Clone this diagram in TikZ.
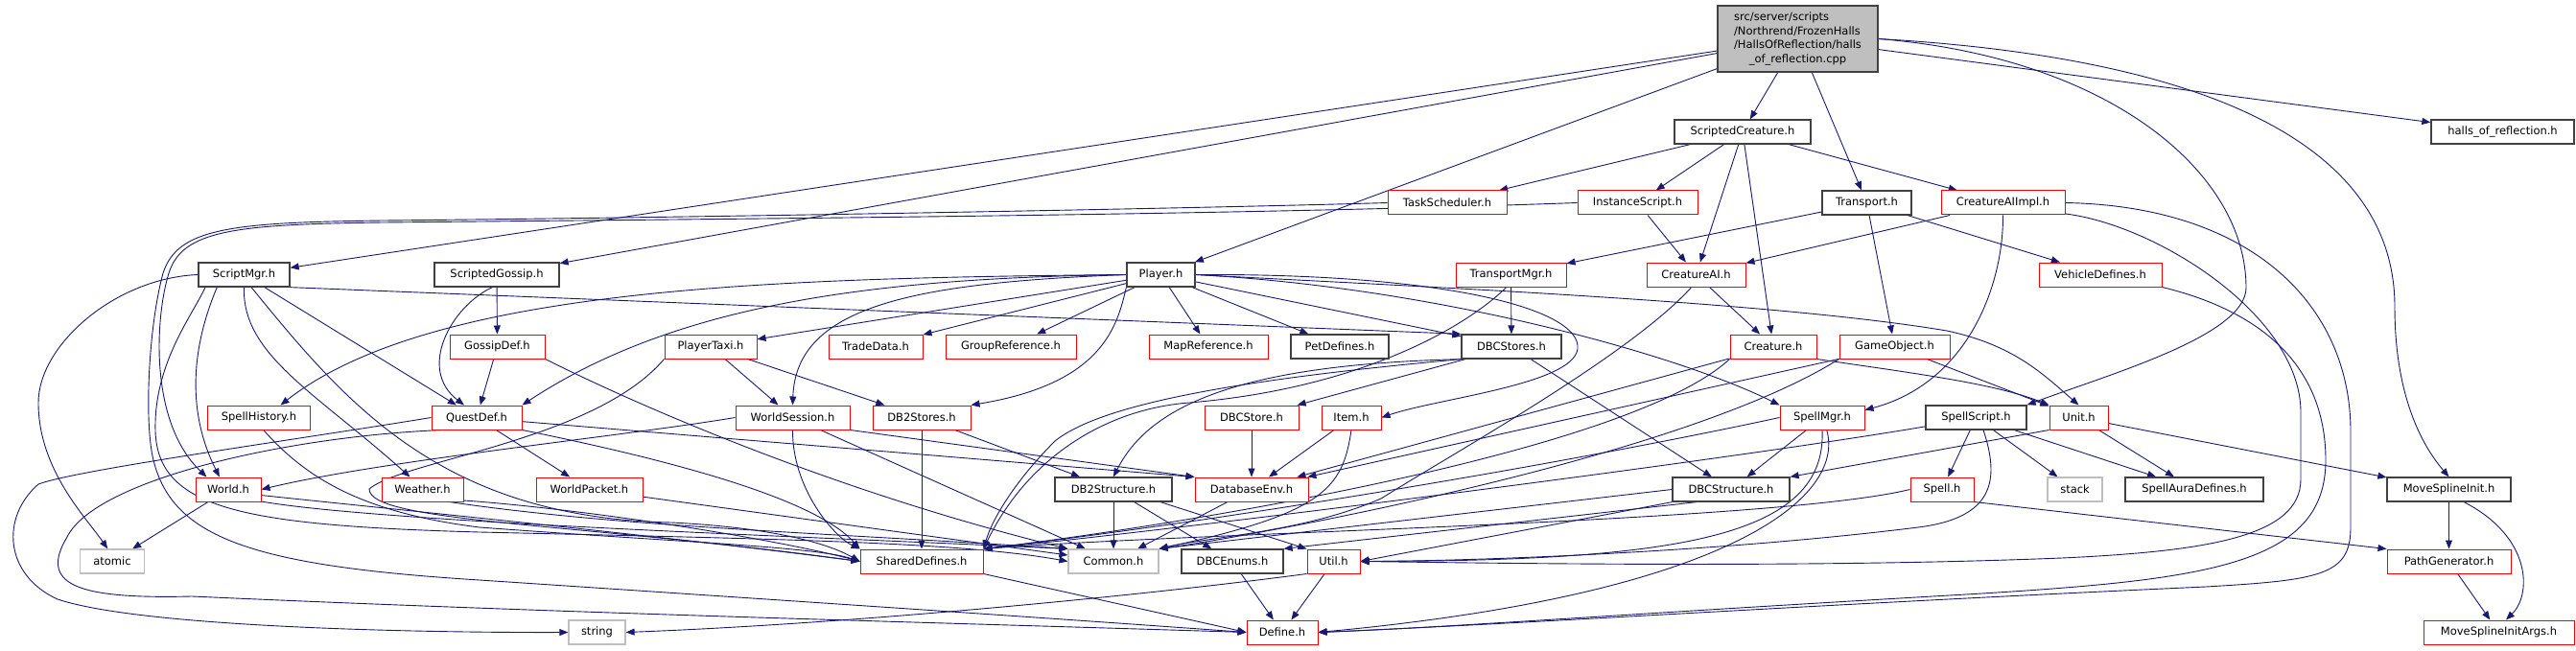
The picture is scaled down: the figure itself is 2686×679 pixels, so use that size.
\documentclass[tikz,border=0pt]{standalone}
\usepackage{fontspec}
\newfontfamily\nf{DejaVu Sans}
\usetikzlibrary{arrows.meta}
\definecolor{edgec}{HTML}{191970}
\definecolor{mainfill}{HTML}{BFBFBF}
\definecolor{graybd}{HTML}{BFBFBF}
\definecolor{blackbd}{HTML}{404040}
\pgfdeclarelayer{back}
\pgfdeclarelayer{edges}
\pgfsetlayers{back,edges,main}
\tikzset{
  box/.style={rectangle, minimum height=25pt, inner sep=0pt, fill=white, text=black,
              font=\nf\fontsize{11.5}{13}\selectfont},
  rb/.style={box, draw=red, line width=1pt},
  kb/.style={box, draw=blackbd, line width=1.3pt},
  gb/.style={box, draw=graybd, line width=1.2pt},
  arr/.style={draw=edgec, line width=0.9pt, -{Triangle[length=9pt,width=7pt]}}
}
\begin{document}
\begin{tikzpicture}[x=1pt,y=-1pt]
\begin{pgfonlayer}{back}
\fill[white] (0,0) rectangle (2686,679);
\end{pgfonlayer}
\useasboundingbox (0,0) rectangle (2686,679);

% ---------- nodes ----------
\node[kb, fill=mainfill, minimum width=167pt, minimum height=69pt,
      font=\nf\fontsize{11.5}{14.8}\selectfont] (main) at (1874.5,40.5)
  {\begin{tabular}{@{}l@{}}src/server/scripts\\/Northrend/FrozenHalls\\/HallsOfReflection/halls\\\multicolumn{1}{@{}c@{}}{\_of\_reflection.cpp}\end{tabular}};
\node[kb, minimum width=95pt]  (SMgr)   at (254.5,286.5) {ScriptMgr.h};
\node[kb, minimum width=130pt] (SGos)   at (518,286.5)   {ScriptedGossip.h};
\node[kb, minimum width=71pt]  (Player) at (1210.5,286.5) {Player.h};
\node[kb, minimum width=142pt] (SC)     at (1817,137.5)  {ScriptedCreature.h};
\node[rb, minimum width=124pt] (TS)     at (1509,211.5)  {TaskScheduler.h};
\node[rb, minimum width=125pt] (IS)     at (1707.5,211.5) {InstanceScript.h};
\node[kb, minimum width=93pt]  (Tr)     at (1946.5,211.5) {Transport.h};
\node[rb, minimum width=129pt] (CAIImpl) at (2088.5,211.5) {CreatureAIImpl.h};
\node[kb, minimum width=149pt] (halls)  at (2609.5,137.5) {halls\_of\_reflection.h};
\node[rb, minimum width=115pt] (TMgr)   at (1575.5,286.5) {TransportMgr.h};
\node[rb, minimum width=103pt] (CAI)    at (1768.5,286.5) {CreatureAI.h};
\node[rb, minimum width=128pt] (VD)     at (2190,286.5)  {VehicleDefines.h};
\node[rb, minimum width=99pt]  (GD)     at (518.5,361.5) {GossipDef.h};
\node[rb, minimum width=96pt]  (PT)     at (741,361.5)   {PlayerTaxi.h};
\node[rb, minimum width=98pt]  (TD)     at (913,361.5)   {TradeData.h};
\node[rb, minimum width=136pt] (GR)     at (1054,361.5)  {GroupReference.h};
\node[rb, minimum width=124pt] (MR)     at (1260,361.5)  {MapReference.h};
\node[kb, minimum width=102pt] (PD)     at (1397,361.5)  {PetDefines.h};
\node[kb, minimum width=104pt] (DBCS)   at (1576,361.5)  {DBCStores.h};
\node[rb, minimum width=90pt]  (Cr)     at (1849,361.5)  {Creature.h};
\node[rb, minimum width=115pt] (GO)     at (1975.5,361.5) {GameObject.h};
\node[rb, minimum width=107pt] (SH)     at (270,435.5)   {SpellHistory.h};
\node[rb, minimum width=94pt]  (QD)     at (497,435.5)   {QuestDef.h};
\node[rb, minimum width=119pt] (WS)     at (826.5,435.5) {WorldSession.h};
\node[rb, minimum width=102pt] (DB2S)   at (961,435.5)   {DB2Stores.h};
\node[rb, minimum width=98pt]  (DBCSt)  at (1305,435.5)  {DBCStore.h};
\node[rb, minimum width=62pt]  (Item)   at (1409,435.5)  {Item.h};
\node[rb, minimum width=88pt]  (SM)     at (1900,435.5)  {SpellMgr.h};
\node[kb, minimum width=105pt] (SS)     at (2060.5,435.5) {SpellScript.h};
\node[rb, minimum width=61pt]  (Unit)   at (2167.5,435.5) {Unit.h};
\node[rb, minimum width=68pt]  (World)  at (238,510.5)   {World.h};
\node[rb, minimum width=85pt]  (Weather) at (440.5,510.5) {Weather.h};
\node[rb, minimum width=111pt] (WP)     at (614.5,510.5) {WorldPacket.h};
\node[kb, minimum width=122pt] (DB2St)  at (1161,510.5)  {DB2Structure.h};
\node[rb, minimum width=118pt] (DBE)    at (1305,510.5)  {DatabaseEnv.h};
\node[kb, minimum width=122pt] (DBCStr) at (1805,510.5)  {DBCStructure.h};
\node[rb, minimum width=66pt]  (Spell)  at (2025,510.5)  {Spell.h};
\node[gb, minimum width=57pt]  (stack)  at (2163.5,510.5) {stack};
\node[kb, minimum width=144pt] (SAD)    at (2288,510.5)  {SpellAuraDefines.h};
\node[kb, minimum width=129pt] (MSI)    at (2553.5,510.5) {MoveSplineInit.h};
\node[gb, minimum width=67pt]  (atomic) at (117,585.5)   {atomic};
\node[rb, minimum width=128pt] (SD)     at (961,585.5)   {SharedDefines.h};
\node[gb, minimum width=94pt]  (Common) at (1161,585.5)  {Common.h};
\node[kb, minimum width=106pt] (DBCE)   at (1285,585.5)  {DBCEnums.h};
\node[rb, minimum width=55pt]  (Util)   at (1390.5,585.5) {Util.h};
\node[rb, minimum width=129pt] (PG)     at (2553.5,585.5) {PathGenerator.h};
\node[gb, minimum width=59pt]  (string) at (622.5,659.5)  {string};
\node[rb, minimum width=74pt]  (Define) at (1337,659.5)  {Define.h};
\node[rb, minimum width=157pt] (MSIA)   at (2605.5,659.5) {MoveSplineInitArgs.h};

% ---------- edges ----------
\begin{pgfonlayer}{edges}
% main
\draw[arr] (main) -- (SMgr);
\draw[arr] (main) -- (SGos);
\draw[arr] (main) -- (Player);
\draw[arr] (main) -- (SC);
\draw[arr] (main) -- (Tr);
\draw[arr] (main) -- (halls);
\draw[arr] (main.east) .. controls (2200,60) and (2342,180) .. (2342,300) .. controls (2342,350) and (2200,390) .. (SS.north east);
\draw[arr] (main.east) .. controls (2300,60) and (2497,150) .. (2497,320) .. controls (2497,420) and (2530,470) .. (MSI.north);
% ScriptedCreature
\draw[arr] (SC) -- (TS);
\draw[arr] (SC) -- (IS);
\draw[arr] (SC) -- (CAI);
\draw[arr] (SC) -- (Cr);
\draw[arr] (SC) -- (CAIImpl);
% TaskScheduler
\draw[arr] (TS.west) .. controls (1300,216) and (800,226) .. (400,230) .. controls (240,232) and (185,238) .. (170,285) .. controls (155,340) and (150,440) .. (160,480) .. controls (180,560) and (260,590) .. (500,605) .. controls (800,625) and (1100,645) .. (Define.west);
% InstanceScript
\draw[arr] (IS) -- (CAI);
\draw[arr] (IS.west) .. controls (1300,224) and (800,228) .. (400,232) .. controls (245,234) and (190,240) .. (176,285) .. controls (162,330) and (155,440) .. (World.150);
% Transport
\draw[arr] (Tr) -- (TMgr);
\draw[arr] (Tr) -- (VD);
\draw[arr] (Tr) -- (GO);
% CreatureAIImpl
\draw[arr] (CAIImpl) -- (CAI);
\draw[arr] (CAIImpl.south) .. controls (2089,300) and (2050,400) .. (SM.10);
\draw[arr] (CAIImpl.east) .. controls (2350,215) and (2451,320) .. (2451,450) -- (2451,550) .. controls (2451,600) and (2420,605) .. (2300,612) .. controls (1900,630) and (1600,650) .. (Define.east);
\draw[arr] (CAIImpl.-10) .. controls (2250,235) and (2399,330) .. (2399,430) -- (2399,500) .. controls (2399,560) and (2300,575) .. (2150,582) .. controls (1900,592) and (1600,588) .. (Util.east);
% VehicleDefines
\draw[arr] (VD.south east) .. controls (2380,330) and (2425,400) .. (2425,480) .. controls (2425,590) and (2300,605) .. (2050,620) .. controls (1700,640) and (1500,655) .. (Define.east);
% TransportMgr
\draw[arr] (TMgr) -- (DBCS);
\draw[arr] (TMgr.250) .. controls (1530,340) and (1420,405) .. (1240,420) .. controls (1150,427) and (1070,480) .. (SD.north east);
% CreatureAI
\draw[arr] (CAI) -- (Cr);
\draw[arr] (CAI.250) .. controls (1700,370) and (1520,470) .. (1440,520) .. controls (1360,555) and (1260,560) .. (Common.north east);
% ScriptMgr
\draw[arr] (SMgr.south east) -- (DBCS.north west);
\draw[arr] (SMgr.west) .. controls (120,290) and (40,360) .. (40,420) .. controls (40,490) and (90,540) .. (atomic.110);
\draw[arr] (SMgr.205) .. controls (205,350) and (190,420) .. (World.125);
\draw[arr] (SMgr.south) .. controls (252,370) and (330,410) .. (Weather.135);
\draw[arr] (SMgr) -- (QD);
\draw[arr] (SMgr.300) .. controls (360,420) and (460,540) .. (700,545) .. controls (800,550) and (860,565) .. (SD.west);
\draw[arr] (SMgr.198) .. controls (200,330) and (160,380) .. (162,450) .. controls (165,530) and (250,548) .. (500,555) .. controls (800,562) and (1000,565) .. (Common.west);
% ScriptedGossip
\draw[arr] (SGos) -- (GD);
\draw[arr] (SGos.250) .. controls (470,320) and (435,385) .. (QD.135);
% Player
\draw[arr] (Player) -- (TD);
\draw[arr] (Player) -- (GR);
\draw[arr] (Player) -- (MR);
\draw[arr] (Player) -- (PD);
\draw[arr] (Player) -- (PT);
\draw[arr] (Player) -- (DBCS);
\draw[arr] (Player.south west) .. controls (1165,340) and (1150,400) .. (DB2S.north east);
\draw[arr] (Player.east) .. controls (1500,285) and (1640,320) .. (1645,360) .. controls (1650,400) and (1500,415) .. (Item.east);
\draw[arr] (Player.west) .. controls (900,290) and (700,320) .. (QD.north east);
\draw[arr] (Player.west) .. controls (800,290) and (450,300) .. (SH.30);
\draw[arr] (Player.west) .. controls (950,295) and (830,320) .. (WS.north);
\draw[arr] (Player.east) .. controls (1500,300) and (1750,370) .. (SM.north west);
\draw[arr] (Player.east) .. controls (1500,300) and (1850,315) .. (2030,345) .. controls (2100,360) and (2130,390) .. (Unit.north);
% PlayerTaxi
\draw[arr] (PT) -- (WS);
\draw[arr] (PT) -- (DB2S);
\draw[arr] (PT.south west) .. controls (620,460) and (420,480) .. (385,510) .. controls (385,545) and (600,545) .. (SD.west);
% WorldSession
\draw[arr] (WS.west) .. controls (650,455) and (400,480) .. (World.east);
\draw[arr] (WS.south) .. controls (826,510) and (870,560) .. (SD.north west);
\draw[arr] (WS.south east) -- (DBE.north west);
\draw[arr] (WS) -- (Common);
% DB2Stores
\draw[arr] (DB2S) -- (SD);
\draw[arr] (DB2S) -- (DB2St);
% DBCStores
\draw[arr] (DBCS) -- (DBCSt);
\draw[arr] (DBCS) -- (DBCStr);
\draw[arr] (DBCS.south west) .. controls (1300,380) and (1200,420) .. (DB2St.north);
\draw[arr] (DBCS.south west) .. controls (1300,395) and (1150,420) .. (1100,460) .. controls (1060,500) and (1035,540) .. (SD.north east);
% DBCStore, Item
\draw[arr] (DBCSt) -- (DBE);
\draw[arr] (Item) -- (DBE);
\draw[arr] (Item.south) .. controls (1400,510) and (1380,535) .. (Common.north east);
% Creature
\draw[arr] (Cr.south east) .. controls (2000,390) and (2080,400) .. (Unit.north west);
\draw[arr] (Cr) -- (DBE);
\draw[arr] (Cr.south west) .. controls (1700,470) and (1250,545) .. (SD.north east);
% GameObject
\draw[arr] (GO) -- (Unit);
\draw[arr] (GO) -- (DBE);
\draw[arr] (GO.south west) .. controls (1750,480) and (1300,560) .. (Common.north east);
% SpellMgr
\draw[arr] (SM) -- (DBCStr);
\draw[arr] (SM.west) .. controls (1650,480) and (1300,540) .. (SD.north east);
\draw[arr] (SM.south) .. controls (1905,560) and (1750,585) .. (Util.east);
\draw[arr] (SM.-70) .. controls (1925,520) and (1800,620) .. (Define.east);
% SpellScript
\draw[arr] (SS) -- (Spell);
\draw[arr] (SS) -- (stack);
\draw[arr] (SS) -- (SAD);
\draw[arr] (SS.-60) .. controls (2085,500) and (2080,540) .. (2000,550) .. controls (1800,575) and (1550,585) .. (Util.east);
\draw[arr] (SS.190) .. controls (1800,480) and (1250,550) .. (SD.north east);
% Unit
\draw[arr] (Unit) -- (SAD);
\draw[arr] (Unit) -- (MSI);
\draw[arr] (Unit.south west) -- (DBCStr.north east);
% Spell
\draw[arr] (Spell.south east) -- (PG.north west);
\draw[arr] (Spell.west) .. controls (1850,545) and (1250,555) .. (SD.north east);
% DBCStructure
\draw[arr] (DBCStr.west) -- (Common.north east);
\draw[arr] (DBCStr.200) -- (DBCE.north east);
\draw[arr] (DBCStr.south west) -- (Util.east);
% DB2Structure
\draw[arr] (DB2St) -- (Common);
\draw[arr] (DB2St) -- (DBCE);
\draw[arr] (DB2St.-15) -- (Util.north west);
% DatabaseEnv
\draw[arr] (DBE) -- (Common);
% QuestDef
\draw[arr] (QD) -- (WP);
\draw[arr] (QD.-5) -- (DBE.north west);
\draw[arr] (QD.south east) .. controls (700,480) and (850,520) .. (SD.north west);
\draw[arr] (QD.west) .. controls (300,460) and (80,490) .. (40,505) .. controls (0,540) and (5,600) .. (60,625) .. controls (150,655) and (450,660) .. (string.west);
\draw[arr] (QD.200) .. controls (300,455) and (100,500) .. (70,560) .. controls (40,610) and (80,625) .. (200,622) .. controls (600,640) and (1000,650) .. (Define.west);
% GossipDef
\draw[arr] (GD) -- (QD);
\draw[arr] (GD.south east) .. controls (700,440) and (900,520) .. (Common.north west);
% SpellHistory
\draw[arr] (SH.-70) .. controls (320,500) and (380,535) .. (500,550) .. controls (700,565) and (850,570) .. (SD.west);
% World
\draw[arr] (World) -- (atomic);
\draw[arr] (World.-10) .. controls (400,530) and (700,560) .. (SD.west);
\draw[arr] (World.-20) .. controls (400,545) and (850,560) .. (Common.north west);
% Weather
\draw[arr] (Weather.-15) .. controls (600,530) and (800,560) .. (SD.west);
\draw[arr] (Weather.-25) .. controls (650,550) and (850,555) .. (Common.north west);
% WorldPacket
\draw[arr] (WP) -- (Common);
% bottom rows
\draw[arr] (DBCE) -- (Define);
\draw[arr] (Util) -- (Define);
\draw[arr] (SD.south east) -- (Define.west);
\draw[arr] (Util.south west) .. controls (1200,620) and (900,650) .. (string.east);
% MoveSpline
\draw[arr] (MSI) -- (PG);
\draw[arr] (MSI.-40) .. controls (2640,560) and (2640,620) .. (MSIA.60);
\draw[arr] (PG) -- (MSIA);
\end{pgfonlayer}
\end{tikzpicture}
\end{document}
